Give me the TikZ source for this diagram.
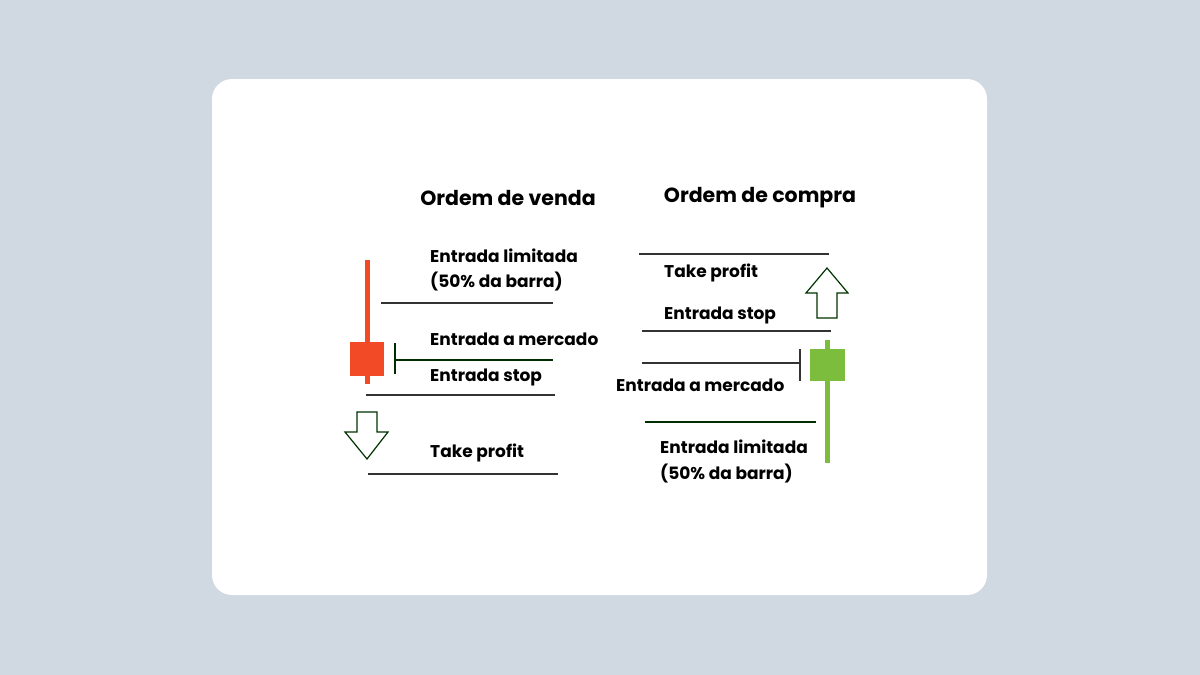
\documentclass[tikz,border=0pt]{standalone}
\usepackage{fontspec}
\setmainfont{Poppins}
\begin{document}
\begin{tikzpicture}[x=1pt,y=-1pt,
  lbl/.style={anchor=west,inner sep=0,font=\fontsize{17}{19}\selectfont\bfseries},
  ttl/.style={inner sep=0,font=\fontsize{20.5}{22}\selectfont\bfseries},
  lvl/.style={draw=black!80,line width=1.2pt},
  gl/.style={draw=black!70!green!60!black,line width=1.2pt},
  arr/.style={draw=black!60!green!50!black,line width=1.2pt,fill=white}]
\fill[fill={rgb,255:red,208;green,216;blue,226}] (0,0) rectangle (1200,675);
\useasboundingbox (0,0) rectangle (1200,675);
\fill[white,rounded corners=20pt] (212,79) rectangle (987,595);
\node[ttl] (t1) at (508,198) {Ordem de venda};
\node[ttl] (t2) at (760,198) {Ordem de compra};
% left candle
\definecolor{rd}{RGB}{242,74,38}
\definecolor{gr}{RGB}{125,189,62}
\fill[rd] (364.5,260) rectangle (369.5,384);
\fill[rd] (350,342) rectangle (384,376);
\draw[lvl] (381,303) coordinate (a1) -- (553,303) coordinate (a2);
\draw[gl] (395,360) coordinate (b1) -- (553,360) coordinate (b2);
\draw[gl] (395,343) -- (395,374);
\draw[lvl] (366,395) coordinate (c1) -- (555,395) coordinate (c2);
\draw[lvl] (368,474) coordinate (d1) -- (558,474) coordinate (d2);
\node[lbl] (l1) at (430,256) {Entrada limitada};
\node[lbl] (l2) at (430,282) {(50\% da barra)};
\node[lbl] (l3) at (430,339) {Entrada a mercado};
\node[lbl] (l4) at (430,377) {Entrada stop};
\node[lbl] (l5) at (430,453) {Take profit};
\draw[arr] (357,412) -- (377,412) -- (377,432) -- (388,432) -- (367,459) -- (345,432) -- (357,432) -- cycle;
% right
\draw[lvl] (639,254) -- (829,254);
\draw[lvl] (642,331) -- (831,331);
\draw[lvl] (642,363) -- (800,363);
\draw[lvl] (800,349) -- (800,381);
\draw[gl] (645,422) -- (816,422);
\node[lbl] (r1) at (664,273) {Take profit};
\node[lbl] (r2) at (664,315) {Entrada stop};
\node[lbl] (r3) at (616,385) {Entrada a mercado};
\node[lbl] (r4) at (660,447) {Entrada limitada};
\node[lbl] (r5) at (660,474) {(50\% da barra)};
\fill[gr] (824.5,340) rectangle (829.5,463);
\fill[gr] (810,349) rectangle (845,381);
\draw[arr] (817,318) -- (837,318) -- (837,293) -- (848,293) -- (827,268) -- (806,293) -- (817,293) -- cycle;
\end{tikzpicture}
\end{document}
